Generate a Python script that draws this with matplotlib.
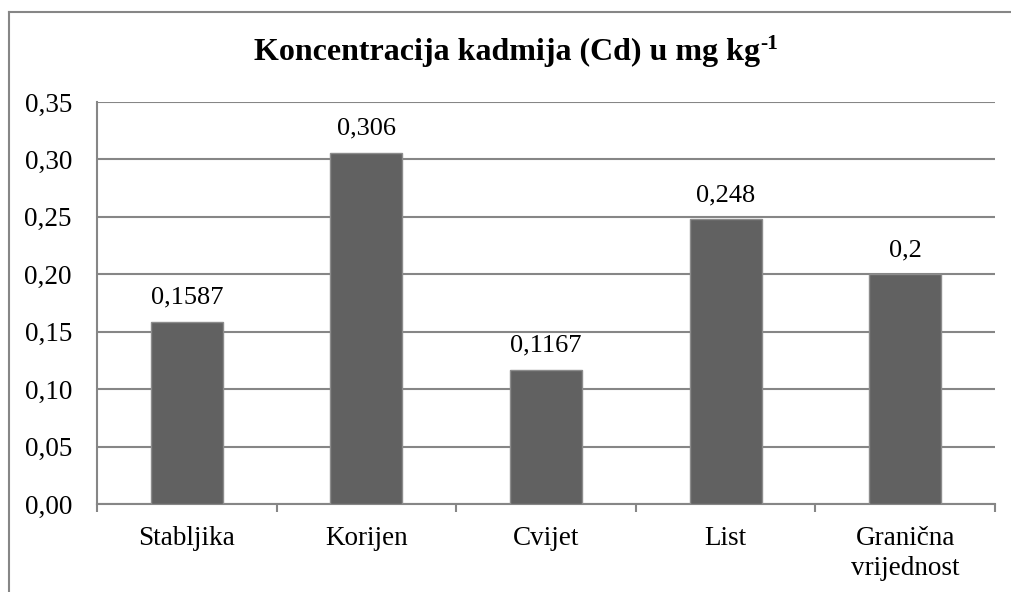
import matplotlib
matplotlib.use("Agg")
import matplotlib.pyplot as plt
from matplotlib.lines import Line2D
import numpy as np

categories = ["Stabljika", "Korijen", "Cvijet", "List", "Granična\nvrijednost"]
values = [0.1587, 0.306, 0.1167, 0.248, 0.2]
value_labels = ["0,1587", "0,306", "0,1167", "0,248", "0,2"]
yticks = [0.00, 0.05, 0.10, 0.15, 0.20, 0.25, 0.30, 0.35]
ytick_labels = ["0,00", "0,05", "0,10", "0,15", "0,20", "0,25", "0,30", "0,35"]
title_main = "Koncentracija kadmija (Cd) u mg kg"
title_sup = "-1"

plt.rcParams['font.family'] = ['Liberation Serif', 'DejaVu Serif']

W, H = 1012, 592
fig = plt.figure(figsize=(W / 100, H / 100), dpi=100)
ax = fig.add_axes([97 / W, 88 / H, (995 - 97) / W, (504 - 102) / H])

grid_c = "#868686"
bar_c = "#616161"

x = np.arange(len(categories))
ax.bar(x, values, width=0.4, color=bar_c, edgecolor="#8c8c8c", linewidth=1.0, zorder=3)
for xi, v, lab in zip(x, values, value_labels):
    ax.annotate(lab, (xi, v), xytext=(0, 13), textcoords="offset points",
                ha="center", va="baseline", fontsize=19)

ax.set_xlim(-0.5, len(categories) - 0.5)
ax.set_ylim(0, 0.35)
ax.set_yticks(yticks)
ax.set_yticklabels(ytick_labels, fontsize=19.5)
ax.tick_params(axis="y", length=0, pad=18)
ax.yaxis.grid(True, color=grid_c, linewidth=1.5, zorder=0)
ax.set_axisbelow(True)

ax.set_xticks(np.arange(len(categories) + 1) - 0.5)
ax.set_xticklabels([])
ax.tick_params(axis="x", which="major", length=6, width=1.5, color=grid_c, direction="out")
ax.set_xticks(x, minor=True)
ax.set_xticklabels(categories, minor=True, fontsize=19.5, linespacing=1.25)
ax.tick_params(axis="x", which="minor", length=0, pad=16)

for s in ["top", "right"]:
    ax.spines[s].set_visible(False)
for s in ["left", "bottom"]:
    ax.spines[s].set_color(grid_c)
    ax.spines[s].set_linewidth(1.5)

# title with superscript "-1"
renderer = fig.canvas.get_renderer()
t_main = fig.text(0, 1 - 52 / H, title_main, ha="left", va="center",
                  fontsize=23, fontweight="bold")
t_sup = fig.text(0, 1 - 44 / H, title_sup, ha="left", va="center",
                 fontsize=15.5, fontweight="bold")
w_main = t_main.get_window_extent(renderer).width
w_sup = t_sup.get_window_extent(renderer).width
x0 = 516 - (w_main + w_sup) / 2
t_main.set_x(x0 / W)
t_sup.set_x((x0 + w_main) / W)

# outer chart border (cut off on right and bottom)
fig.add_artist(Line2D([9.5 / W, 9.5 / W], [0, 1 - 12 / H], color=grid_c, linewidth=1.5,
                      transform=fig.transFigure))
fig.add_artist(Line2D([9.5 / W, 1], [1 - 12 / H, 1 - 12 / H], color=grid_c, linewidth=1.5,
                      transform=fig.transFigure))

fig.savefig("out.png", dpi=100)
